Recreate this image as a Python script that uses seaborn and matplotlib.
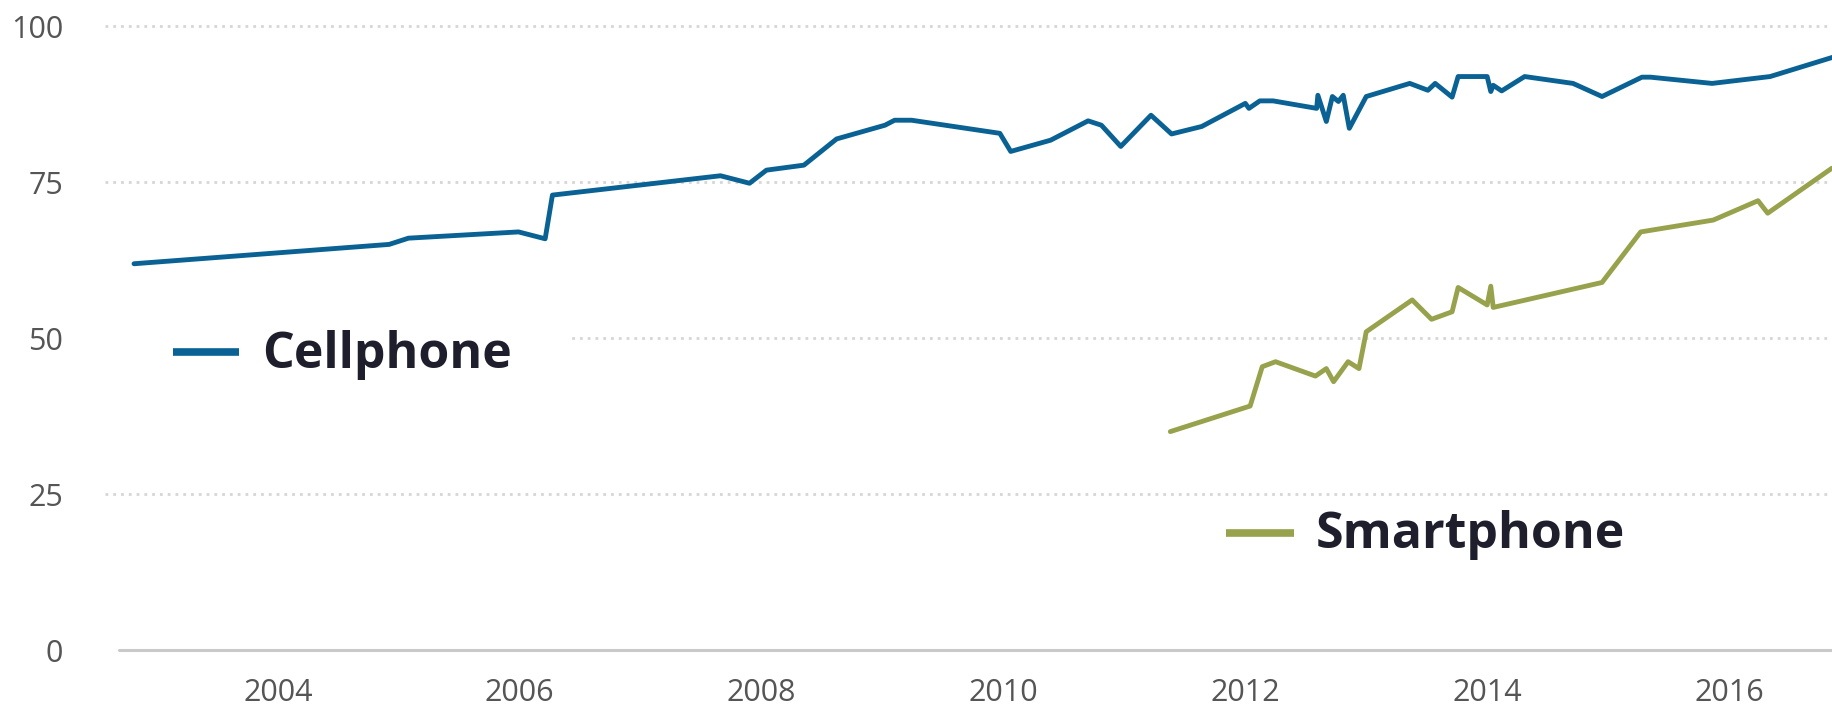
import matplotlib
matplotlib.use("Agg")
import matplotlib.pyplot as plt
from matplotlib.lines import Line2D
from matplotlib.patches import Rectangle
import seaborn as sns
import pandas as pd

# ---- data ----
cell_years = [2002.81, 2004.92, 2005.08, 2005.99, 2006.21, 2006.27, 2007.66, 2007.90, 2008.04,
              2008.35, 2008.62, 2009.02, 2009.10, 2009.24, 2009.97, 2010.06, 2010.39, 2010.70,
              2010.81, 2010.97, 2011.22, 2011.39, 2011.64, 2012.00, 2012.03, 2012.12, 2012.23,
              2012.59, 2012.60, 2012.67, 2012.72, 2012.77, 2012.81, 2012.86, 2013.00, 2013.36,
              2013.51, 2013.57, 2013.71, 2013.76, 2014.00, 2014.03, 2014.05, 2014.12, 2014.31,
              2014.71, 2014.95, 2015.28, 2015.35, 2015.86, 2016.34, 2016.86]
cell_values = [61.9, 65.0, 66.0, 67.0, 65.9, 72.9, 76.0, 74.8, 76.9,
               77.7, 81.9, 84.1, 84.9, 84.9, 82.8, 79.9, 81.7, 84.8,
               84.1, 80.7, 85.7, 82.7, 83.9, 87.6, 86.8, 88.0, 88.0,
               86.8, 88.9, 84.7, 88.7, 87.9, 88.9, 83.6, 88.7, 90.8,
               89.7, 90.8, 88.6, 91.9, 91.9, 89.5, 90.5, 89.6, 91.9,
               90.8, 88.7, 91.8, 91.8, 90.8, 91.9, 95.0]

smart_years = [2011.38, 2012.04, 2012.14, 2012.25, 2012.58, 2012.67, 2012.73, 2012.85,
               2012.94, 2013.00, 2013.38, 2013.54, 2013.71, 2013.76, 2014.00, 2014.03,
               2014.05, 2014.95, 2015.27, 2015.87, 2016.24, 2016.32, 2016.85]
smart_values = [35.0, 39.1, 45.4, 46.2, 43.9, 45.1, 43.0, 46.2,
                45.1, 51.0, 56.1, 53.0, 54.2, 58.1, 55.3, 58.3,
                54.9, 58.9, 67.0, 68.9, 72.0, 70.0, 77.2]

series_names = ["Cellphone", "Smartphone"]
series_colors = ["#0a6294", "#98a24c"]
x_ticks = [2004, 2006, 2008, 2010, 2012, 2014, 2016]
x_tick_labels = ["2004", "2006", "2008", "2010", "2012", "2014", "2016"]
y_ticks = [0, 25, 50, 75, 100]
y_tick_labels = ["0", "25", "50", "75", "100"]

df = pd.concat([
    pd.DataFrame({"year": cell_years, "value": cell_values, "series": series_names[0]}),
    pd.DataFrame({"year": smart_years, "value": smart_values, "series": series_names[1]}),
], ignore_index=True)

sns.set_theme(style="white")
plt.rcParams["font.family"] = ["Open Sans", "DejaVu Sans"]

W, H = 1833, 710
fig = plt.figure(figsize=(W / 100, H / 100), dpi=100)
left_px, right_px, top_px, bot_px = 105, 1833, 26, 650
ax = fig.add_axes([left_px / W, 1 - bot_px / H, (right_px - left_px) / W, (bot_px - top_px) / H])

# grid
for v in y_ticks[1:]:
    ax.axhline(v, color="#d6d6d6", lw=2, ls=(0, (1, 1.8)), zorder=0)
ax.axhline(0, color="#c9c9c9", lw=2.2, xmin=(119 - left_px) / (right_px - left_px), zorder=0)

sns.lineplot(data=df, x="year", y="value", hue="series", palette=dict(zip(series_names, series_colors)),
             estimator=None, sort=False, linewidth=3.5, legend=False, ax=ax, zorder=3)
for ln in ax.lines:
    ln.set_clip_on(False)
    ln.set_solid_joinstyle("round")

ax.set_xlim(2002.57, 2016.86)
ax.set_ylim(0, 100)
ax.set_xticks(x_ticks)
ax.set_xticklabels(x_tick_labels)
ax.set_yticks(y_ticks)
ax.set_yticklabels(y_tick_labels)
ax.tick_params(axis="both", length=0, labelsize=22, labelcolor="#555555")
ax.tick_params(axis="y", pad=30)
ax.tick_params(axis="x", pad=20)
ax.set_xlabel("")
ax.set_ylabel("")
for s in ax.spines.values():
    s.set_visible(False)

# white box behind the Cellphone label (hides the 50 gridline there)
ax.add_patch(Rectangle((0, 0.433), (570 - left_px) / (right_px - left_px), 0.09,
                       transform=ax.transAxes, facecolor="white", edgecolor="none", zorder=1))

# direct labels
def label(x0, x1, y_line, x_text, y_base, text, color):
    fig.add_artist(Line2D([x0 / W, x1 / W], [1 - y_line / H] * 2, color=color, lw=5.5,
                          solid_capstyle="butt"))
    fig.text(x_text / W, 1 - y_base / H, text, fontsize=36, fontweight="bold",
             color="#1e1e2c", family=["Open Sans", "DejaVu Sans"], va="baseline", ha="left")

label(173, 239, 352, 262, 368, series_names[0], series_colors[0])
label(1226, 1294, 533, 1316, 548, series_names[1], series_colors[1])

fig.savefig("out.png", dpi=100, facecolor="white")
